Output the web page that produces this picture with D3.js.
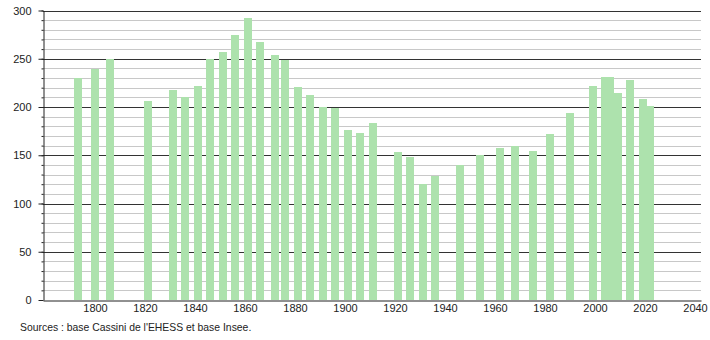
<!DOCTYPE html>
<html>
  <head>
    <meta charset="utf-8">
    <script src="https://d3js.org/d3.v7.min.js"></script>
    <style>
      body { margin: 0; background: #fff; }
      text { font-family: "Liberation Sans", Arial, sans-serif; }
    </style>
  </head>
  <body>
    <div id="chart"></div>
    <script>
// census years and population
var years = [1793,1800,1806,1821,1831,1836,1841,1846,1851,1856,1861,1866,1872,1876,1881,1886,1891,1896,1901,1906,1911,1921,1926,1931,1936,1946,1954,1962,1968,1975,1982,1990,1999,2004,2006,2009,2014,2019,2022];
var population = [230,239,250,206,218,210,222,250,257,275,292,267,254,249,221,212,200,199,176,173,183,153,148,120,129,140,150,158,160,154,172,194,222,231,231,214,228,208,201];
var xTicks = [1800,1820,1840,1860,1880,1900,1920,1940,1960,1980,2000,2020,2040];
var yTicks = [0,50,100,150,200,250,300];
var source = "Sources : base Cassini de l'EHESS et base Insee.";

(function(){
  var width = 710, height = 340;
  var left = 43, right = 701, top = 10.5, bottom = 300;

  var svg = d3.select("#chart").append("svg")
    .attr("width", width)
    .attr("height", height);

  var x = d3.scaleLinear().domain([1779.2, 2042.4]).range([left, right]);
  var y = d3.scaleLinear().domain([0, 300]).range([bottom, top]);

  var minor = d3.range(10, 301, 10);

  // grid
  svg.append("g").selectAll("line")
    .data(minor)
    .enter().append("line")
    .attr("x1", left).attr("x2", right)
    .attr("y1", function(d){ return Math.round(y(d)) + 0.5; })
    .attr("y2", function(d){ return Math.round(y(d)) + 0.5; })
    .attr("stroke", function(d){ return d % 50 == 0 ? "#333" : "#c8c8c8"; })
    .attr("stroke-width", 1);

  // bars
  var bw = 8;
  svg.append("g").attr("shape-rendering", "crispEdges").selectAll("rect")
    .data(years)
    .enter().append("rect")
    .attr("x", function(d){ return x(d) - bw / 2; })
    .attr("width", bw)
    .attr("y", function(d, i){ return y(population[i]); })
    .attr("height", function(d, i){ return y(0) - y(population[i]); })
    .attr("fill", "#ade2ad");

  // y axis, minor ticks then major ticks with labels
  svg.append("g")
    .attr("transform", "translate(" + (left + 0.5) + ",0)")
    .call(d3.axisLeft(y).tickValues(minor).tickSize(2).tickSizeOuter(0).tickFormat(""))
    .call(function(g){ g.selectAll("line,path").attr("stroke", "#222"); });

  var ya = svg.append("g")
    .attr("transform", "translate(" + (left + 0.5) + ",0)")
    .call(d3.axisLeft(y).tickValues(yTicks).tickSize(5).tickSizeOuter(0).tickPadding(7));
  ya.select(".domain").remove();
  ya.selectAll("line").attr("stroke", "#222");
  ya.selectAll("text").attr("font-size", "11px").attr("fill", "#222")
    .attr("font-family", "'Liberation Sans', Arial, sans-serif");

  // x axis
  var xa = svg.append("g")
    .attr("transform", "translate(0," + (bottom + 0.5) + ")")
    .call(d3.axisBottom(x).tickValues(xTicks).tickSize(0).tickSizeOuter(0).tickPadding(4).tickFormat(d3.format("d")));
  xa.select(".domain").attr("stroke", "#222");
  xa.selectAll("text").attr("font-size", "11px").attr("fill", "#222")
    .attr("font-family", "'Liberation Sans', Arial, sans-serif");

  svg.append("text")
    .attr("x", 20)
    .attr("y", 331)
    .attr("font-size", "10.4px")
    .attr("fill", "#222")
    .text(source);
})();
    </script>
  </body>
</html>
